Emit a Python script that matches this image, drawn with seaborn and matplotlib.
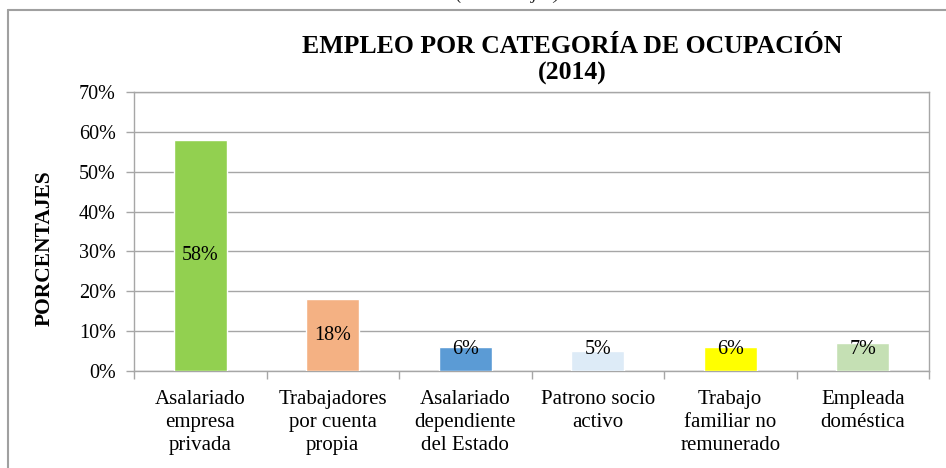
import numpy as np
import pandas as pd
import matplotlib
matplotlib.use('Agg')
import matplotlib.pyplot as plt
import seaborn as sns
from matplotlib.lines import Line2D
from matplotlib.ticker import FixedLocator, PercentFormatter

# data
categorias = ['Asalariado\nempresa\nprivada', 'Trabajadores\npor cuenta\npropia',
              'Asalariado\ndependiente\ndel Estado', 'Patrono socio\nactivo',
              'Trabajo\nfamiliar no\nremunerado', 'Empleada\ndoméstica']
porcentajes = [58, 18, 6, 5, 6, 7]
colores = ['#92D050', '#F4B183', '#5B9BD5', '#DDEBF7', '#FFFF00', '#C5E0B4']

sns.set_theme(style='white')
plt.rcParams['font.family'] = ['Liberation Serif', 'DejaVu Serif']

df = pd.DataFrame({'cat': categorias, 'pct': porcentajes})

fig = plt.figure(figsize=(9.46, 4.68), dpi=100)
ax = fig.add_axes([134 / 946, 1 - 371 / 468, (929 - 134) / 946, (371 - 92) / 468])

sns.barplot(data=df, x='cat', y='pct', hue='cat', palette=colores, legend=False,
            width=0.4, saturation=1, ax=ax, zorder=3)

ax.set_ylim(0, 70)
ax.set_xlim(-0.5, len(categorias) - 0.5)
ax.set_yticks(np.arange(0, 71, 10))
ax.yaxis.set_major_formatter(PercentFormatter(decimals=0))
ax.grid(axis='y', color='#A6A6A6', linewidth=1, zorder=0)
ax.set_axisbelow(True)
for s in ax.spines.values():
    s.set_color('#A6A6A6')
    s.set_linewidth(1)
    s.set_visible(True)

ax.tick_params(axis='y', which='major', left=True, length=6, width=1, color='#A6A6A6',
               pad=7, labelsize=14.5, labelcolor='black')
ax.tick_params(axis='x', which='major', bottom=False, pad=8, labelsize=15, labelcolor='black')
ax.xaxis.set_minor_locator(FixedLocator(np.arange(-0.5, len(categorias), 1)))
ax.tick_params(axis='x', which='minor', bottom=True, length=6, width=1, color='#A6A6A6')
ax.set_xlabel('')
ax.set_ylabel('')
for lbl in ax.get_xticklabels():
    lbl.set_linespacing(1.28)

# value labels (small bars get their label lifted like in Excel)
pos = np.maximum(np.array(porcentajes) / 2, 5.5)
for i, (v, y) in enumerate(zip(porcentajes, pos)):
    ax.text(i, y, f'{v}%', ha='center', va='center', fontsize=14.5, color='black', zorder=4)

fig.text(572 / 946, 1 - 60 / 468, 'EMPLEO POR CATEGORÍA DE OCUPACIÓN\n(2014)',
         ha='center', va='center', fontsize=18.5, fontweight='bold', linespacing=1.25,
         color='black')
fig.text(45 / 946, 1 - 248 / 468, 'PORCENTAJES', rotation=90, ha='center', va='center',
         fontsize=15.5, fontweight='bold', color='black')

# partially cut text above the chart frame
fig.text(508 / 946, 1 + 1 / 468, '(Porcentajes)', ha='center', va='baseline',
         fontsize=14, fontstyle='italic')

# chart frame (left and top edges visible)
fig.add_artist(Line2D([8 / 946, 8 / 946], [0, 1 - 10 / 468], transform=fig.transFigure,
                      color='#A0A0A0', linewidth=1.5))
fig.add_artist(Line2D([8 / 946, 1], [1 - 10 / 468, 1 - 10 / 468], transform=fig.transFigure,
                      color='#A0A0A0', linewidth=1.5))

fig.savefig('out.png', dpi=100)
